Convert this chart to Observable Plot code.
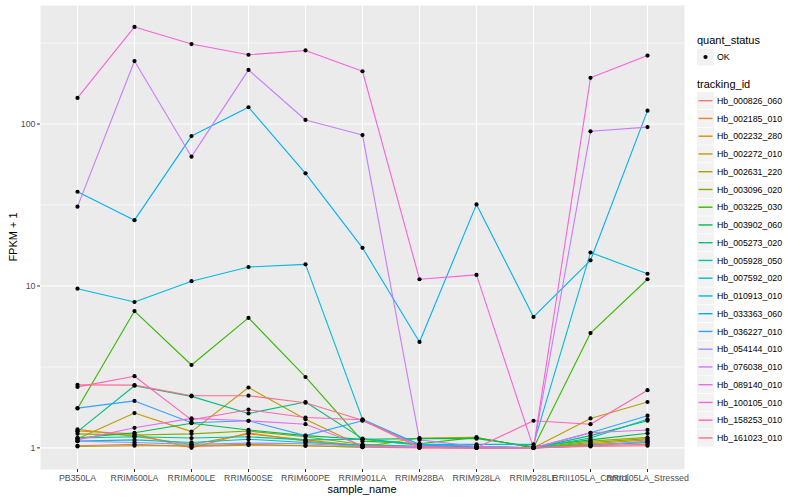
<!DOCTYPE html>
<html>
<head>
<meta charset="utf-8">
<script src="https://cdn.jsdelivr.net/npm/d3@7"></script>
<script src="https://cdn.jsdelivr.net/npm/@observablehq/plot@0.6"></script>
<style>
  html, body { margin: 0; padding: 0; background: #ffffff; }
  #wrap { position: relative; width: 800px; height: 500px; font-family: "Liberation Sans", Arial, Helvetica, sans-serif; }
  #chart { position: absolute; left: 0; top: 0; }
  #legend { position: absolute; left: 690px; top: 0; }
  .axtitle { position: absolute; font-size: 11px; color: #000; white-space: nowrap; }
</style>
</head>
<body>
<div id="wrap">
  <div id="chart"></div>
  <svg id="legend" width="110" height="500"></svg>
  <div class="axtitle" id="xtitle" style="left:362px; top:488.5px; transform: translate(-50%, -50%);">sample_name</div>
  <div class="axtitle" id="ytitle" style="left:12.5px; top:237px; transform: translate(-50%, -50%) rotate(-90deg);">FPKM + 1</div>
</div>
<script>
const categories = ["PB350LA", "RRIM600LA", "RRIM600LE", "RRIM600SE", "RRIM600PE", "RRIM901LA",
  "RRIM928BA", "RRIM928LA", "RRIM928LE", "RRII105LA_Control", "RRII105LA_Stressed"];

const trackingIds = ["Hb_000826_060", "Hb_002185_010", "Hb_002232_280", "Hb_002272_010", "Hb_002631_220",
  "Hb_003096_020", "Hb_003225_030", "Hb_003902_060", "Hb_005273_020", "Hb_005928_050",
  "Hb_007592_020", "Hb_010913_010", "Hb_033363_060", "Hb_036227_010", "Hb_054144_010",
  "Hb_076038_010", "Hb_089140_010", "Hb_100105_010", "Hb_158253_010", "Hb_161023_010"];

const trackColors = ["#F8766D", "#EA8331", "#D89000", "#C09B00", "#A3A500", "#7CAE00", "#39B600", "#00BB4E",
  "#00BF7D", "#00C1A3", "#00BFC4", "#00BAE0", "#00B0F6", "#35A2FF", "#9590FF", "#C77CFF", "#E76BF3",
  "#FA62DB", "#FF62BC", "#FF6C91"];

// FPKM + 1 per tracking_id, in the order of categories
const Hb_000826_060 = [1.03, 1.05, 1.02, 1.04, 1.03, 1.01, 1.00, 1.00, 1.00, 1.02, 1.03];
const Hb_002185_010 = [1.27, 1.22, 1.00, 1.24, 1.10, 1.02, 1.01, 1.00, 1.00, 1.05, 1.08];
const Hb_002232_280 = [1.30, 1.18, 1.05, 1.22, 1.12, 1.03, 1.02, 1.01, 1.00, 1.06, 1.12];
const Hb_002272_010 = [1.14, 1.64, 1.26, 2.36, 1.50, 1.02, 1.01, 1.00, 1.00, 1.52, 1.92];
const Hb_002631_220 = [1.02, 1.03, 1.03, 1.05, 1.03, 1.01, 1.15, 1.16, 1.00, 1.10, 1.16];
const Hb_003096_020 = [1.22, 1.20, 1.22, 1.27, 1.17, 1.05, 1.02, 1.01, 1.00, 1.08, 1.14];
const Hb_003225_030 = [1.75, 7.00, 3.25, 6.35, 2.74, 1.10, 1.06, 1.16, 1.00, 5.12, 11.0];
const Hb_003902_060 = [1.15, 1.24, 1.42, 1.29, 1.19, 1.13, 1.14, 1.14, 1.02, 1.12, 1.23];
const Hb_005273_020 = [1.26, 2.42, 2.08, 1.63, 1.92, 1.14, 1.05, 1.02, 1.00, 1.19, 1.47];
const Hb_005928_050 = [1.15, 1.17, 1.15, 1.17, 1.12, 1.13, 1.04, 1.02, 1.00, 1.15, 1.50];
const Hb_007592_020 = [1.10, 1.12, 1.08, 1.13, 1.08, 1.04, 1.02, 1.01, 1.00, 1.04, 1.08];
const Hb_010913_010 = [9.62, 7.96, 10.7, 13.1, 13.6, 1.50, 1.05, 1.05, 1.05, 16.1, 11.9];
const Hb_033363_060 = [38.2, 25.5, 84.3, 127, 49.6, 17.2, 4.51, 31.9, 6.44, 14.4, 121];
const Hb_036227_010 = [1.76, 1.95, 1.43, 1.47, 1.19, 1.47, 1.05, 1.02, 1.00, 1.24, 1.58];
const Hb_054144_010 = [1.10, 1.08, 1.05, 1.07, 1.06, 1.02, 1.01, 1.00, 1.00, 1.03, 1.10];
const Hb_076038_010 = [30.9, 245, 62.9, 216, 106, 85.5, 1.12, 1.02, 1.00, 90.2, 95.8];
const Hb_089140_010 = [1.12, 1.33, 1.52, 1.47, 1.40, 1.03, 1.01, 1.00, 1.00, 1.24, 1.29];
const Hb_100105_010 = [145, 398, 312, 268, 285, 212, 11.0, 11.7, 1.00, 193, 265];
const Hb_158253_010 = [2.38, 2.77, 1.49, 1.72, 1.54, 1.49, 1.02, 1.00, 1.47, 1.40, 2.27];
const Hb_161023_010 = [2.45, 2.44, 2.10, 2.10, 1.90, 1.48, 1.00, 1.00, 1.00, 1.03, 1.05];

const seriesValues = [Hb_000826_060, Hb_002185_010, Hb_002232_280, Hb_002272_010, Hb_002631_220,
  Hb_003096_020, Hb_003225_030, Hb_003902_060, Hb_005273_020, Hb_005928_050,
  Hb_007592_020, Hb_010913_010, Hb_033363_060, Hb_036227_010, Hb_054144_010,
  Hb_076038_010, Hb_089140_010, Hb_100105_010, Hb_158253_010, Hb_161023_010];

const yTicks = [1, 10, 100];
const yMinor = [Math.sqrt(10), Math.sqrt(1000), Math.sqrt(100000)];

const data = trackingIds.flatMap((id, i) =>
  categories.map((s, j) => ({ id, sample: s, value: seriesValues[i][j] })));

const font = '"Liberation Sans", Arial, Helvetica, sans-serif';

const chart = Plot.plot({
  width: 690,
  height: 500,
  marginLeft: 40,
  marginRight: 6,
  marginTop: 5,
  marginBottom: 31,
  style: { fontFamily: font, background: "transparent", overflow: "visible" },
  x: { type: "point", domain: categories, padding: 0.6, label: null },
  y: { type: "log", domain: [0.735, 540], label: null },
  color: { domain: trackingIds, range: trackColors },
  marks: [
    Plot.frame({ fill: "#EBEBEB", stroke: "none" }),
    Plot.gridY(yMinor, { stroke: "#ffffff", strokeOpacity: 1, strokeWidth: 0.6 }),
    Plot.gridY(yTicks, { stroke: "#ffffff", strokeOpacity: 1, strokeWidth: 1.1 }),
    Plot.gridX(categories, { stroke: "#ffffff", strokeOpacity: 1, strokeWidth: 1.1 }),
    Plot.line(data, { x: "sample", y: "value", z: "id", stroke: "id", strokeWidth: 1.1 }),
    Plot.dot(data, { x: "sample", y: "value", r: 2.1, fill: "#000000", stroke: "none" }),
    Plot.axisY(yTicks, { tickFormat: d => String(d), tickSize: 3, tickPadding: 2, fontSize: 8.8,
      fill: "#4D4D4D", stroke: "#333333", label: null }),
    Plot.axisX(categories, { tickSize: 3, tickPadding: 2, fontSize: 8.8,
      fill: "#4D4D4D", stroke: "#333333", label: null })
  ]
});
document.getElementById("chart").appendChild(chart);

// Legend (right side)
const lg = d3.select("#legend").style("font-family", font);
lg.append("text").attr("x", 7).attr("y", 40.5).attr("dy", "0.35em")
  .attr("font-size", 11).attr("fill", "#000").text("quant_status");
lg.append("rect").attr("x", 7).attr("y", 48.5).attr("width", 17).attr("height", 17).attr("fill", "#F2F2F2");
lg.append("circle").attr("cx", 15.5).attr("cy", 57).attr("r", 2.1).attr("fill", "#000");
lg.append("text").attr("x", 27).attr("y", 57).attr("dy", "0.35em")
  .attr("font-size", 8.8).attr("fill", "#000").text("OK");

lg.append("text").attr("x", 7).attr("y", 84.5).attr("dy", "0.35em")
  .attr("font-size", 11).attr("fill", "#000").text("tracking_id");
trackingIds.forEach((id, i) => {
  const cy = 100.7 + i * 17.75;
  lg.append("rect").attr("x", 7).attr("y", cy - 8.5).attr("width", 17).attr("height", 17).attr("fill", "#F2F2F2");
  lg.append("line").attr("x1", 8.5).attr("x2", 22.5).attr("y1", cy).attr("y2", cy)
    .attr("stroke", trackColors[i]).attr("stroke-width", 1.4);
  lg.append("text").attr("x", 27).attr("y", cy).attr("dy", "0.35em")
    .attr("font-size", 8.8).attr("fill", "#000").text(id);
});
</script>
</body>
</html>
